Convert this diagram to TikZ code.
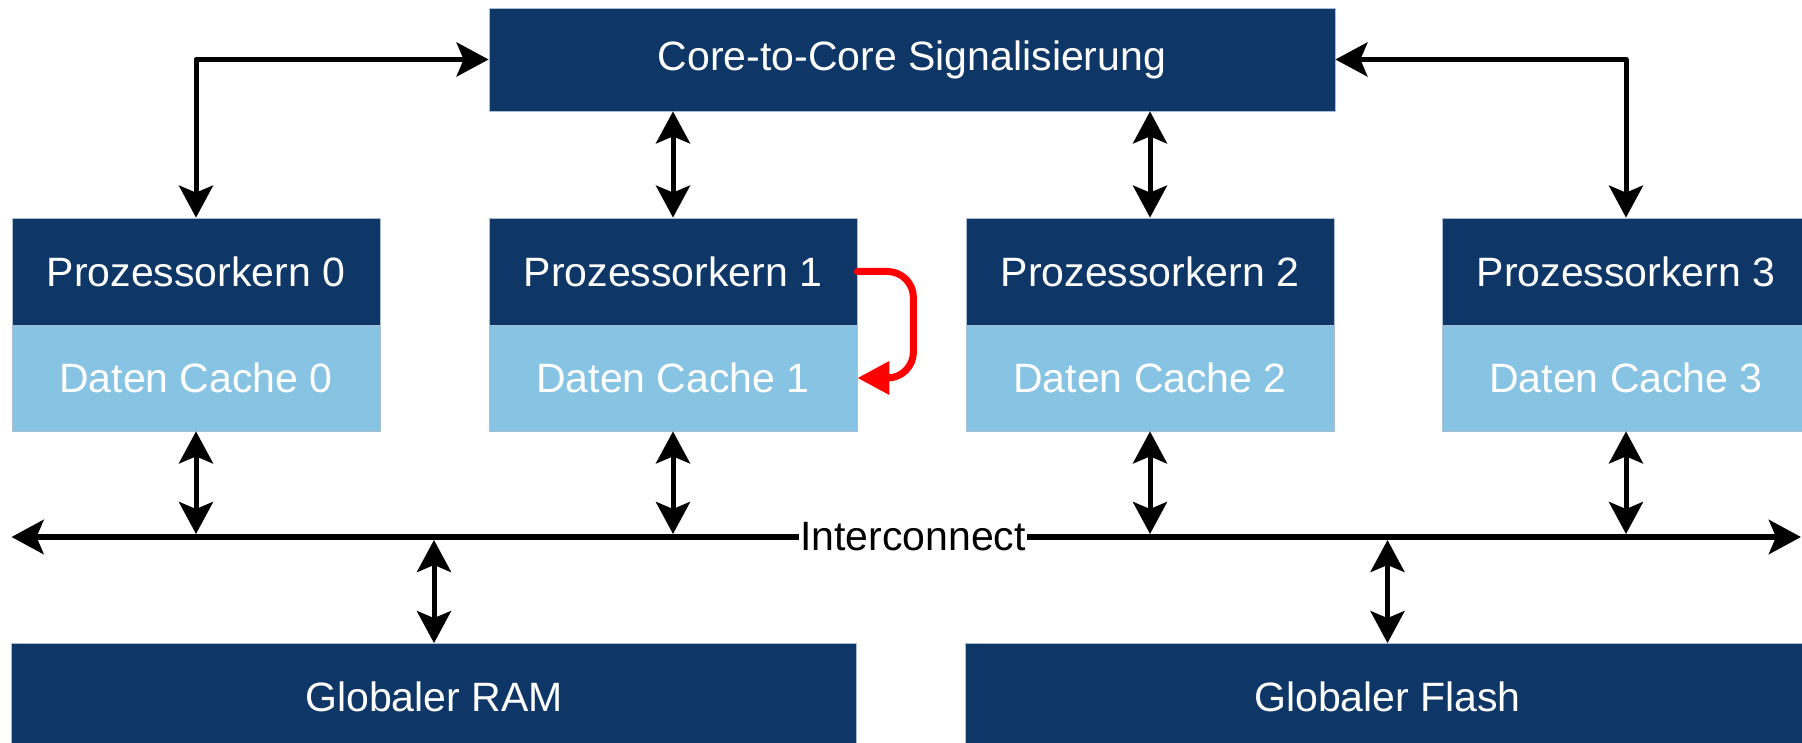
\documentclass[tikz,border=0pt]{standalone}
\usepackage{fontspec}
\setmainfont{Liberation Sans}
\usetikzlibrary{arrows.meta}
\definecolor{kernblau}{HTML}{0E3768}
\definecolor{cacheblau}{HTML}{87C4E4}
\definecolor{rahmen}{HTML}{A9BED3}
\begin{document}
\begin{tikzpicture}[x=1pt,y=1pt,line join=round,
	>={Stealth[length=32pt,width=34pt,inset=7pt]},
	box/.style={draw=rahmen,line width=0.8pt,text=white,font=\fontsize{41}{48}\selectfont,minimum width=368pt,minimum height=107pt,inner sep=0pt},
	kern/.style={box,fill=kernblau},
	cache/.style={box,fill=cacheblau,minimum height=106pt},
	pfeil/.style={<->,line width=5pt},
	rot/.style={-{Triangle[length=32pt,width=32pt]},line width=7pt,line cap=round,red,rounded corners=26pt}]
	\useasboundingbox (0,0) rectangle (1802,742);
	\clip (0,0) rectangle (1802,742);
	% Bloecke
	\node[kern,minimum width=846pt,minimum height=103pt] (core) at (912,682.5) {Core-to-Core Signalisierung};
	\foreach \i/\x in {0/196,1/673,2/1150,3/1626}{
		\node[kern] (kern\i) at (\x,470.5) {Prozessorkern \i};
		\node[cache] (cache\i) at (\x,364) {Daten Cache \i};
	}
	\node[kern,minimum width=845.5pt] (ram) at (434,45) {Globaler RAM};
	\node[kern,minimum width=845pt] (flash) at (1387.5,45) {Globaler Flash};
	% Interconnect
	\coordinate (busL) at (11.5,205);
	\coordinate (busR) at (1801,205);
	\draw[pfeil,line width=6.5pt] (busL) -- (busR);
	\node[fill=white,inner xsep=1pt,inner ysep=0pt,font=\fontsize{41}{48}\selectfont] (bus) at (913,205) {Interconnect};
	% Verbindungen
	\draw[pfeil] (core.west) -| (kern0.north);
	\draw[pfeil] (core.east) -| (kern3.north);
	\foreach \i in {1,2} \draw[pfeil] (kern\i.north |- core.south) -- (kern\i.north);
	\foreach \i in {0,...,3} \draw[pfeil,shorten >=3pt] (cache\i.south) -- (cache\i.south |- busL);
	\draw[pfeil,shorten >=3pt] (ram.north) -- (ram.north |- busL);
	\draw[pfeil,shorten >=3pt] (flash.north) -- (flash.north |- busL);
	\draw[rot] (kern1.east) -| ([xshift=56pt]cache1.east) -- (cache1.east);
\end{tikzpicture}
\end{document}
